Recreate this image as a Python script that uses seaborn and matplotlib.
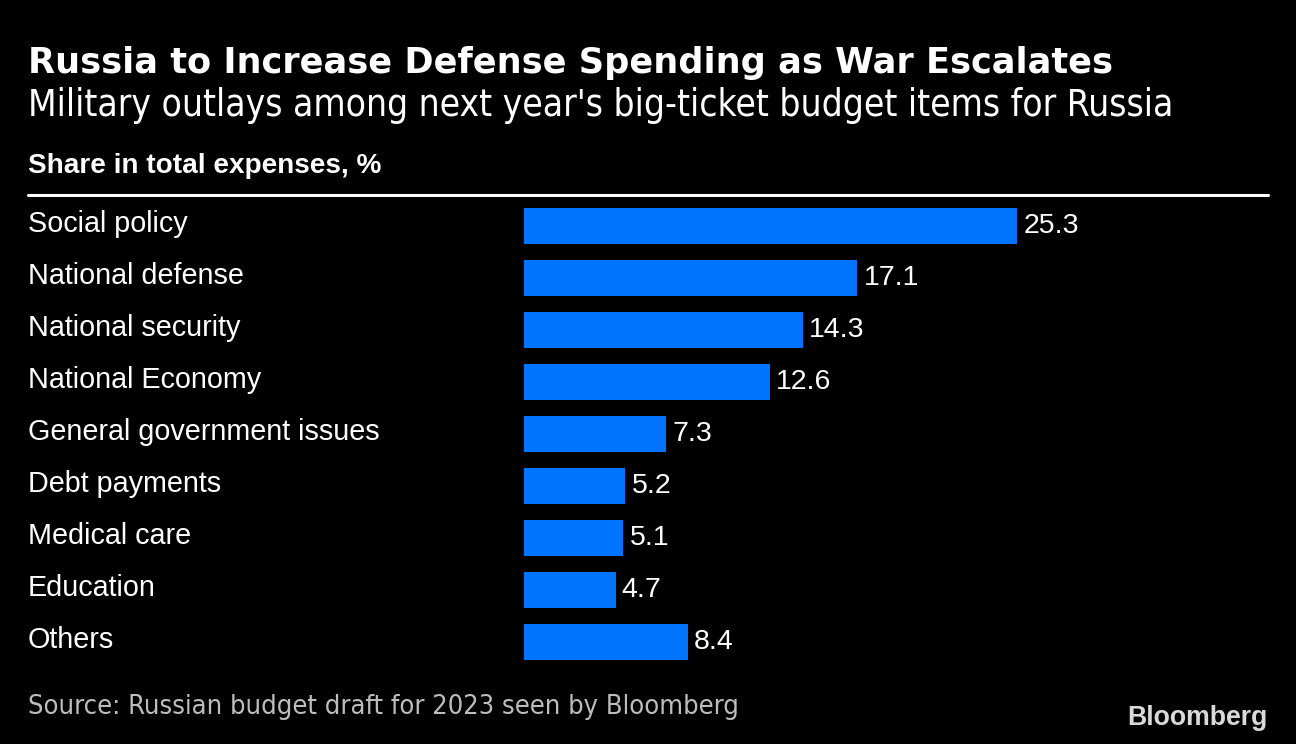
import matplotlib
matplotlib.use("Agg")
import matplotlib.pyplot as plt
import matplotlib.transforms as mtransforms
import seaborn as sns
import pandas as pd

categories = ["Social policy", "National defense", "National security", "National Economy",
              "General government issues", "Debt payments", "Medical care", "Education", "Others"]
values = [25.3, 17.1, 14.3, 12.6, 7.3, 5.2, 5.1, 4.7, 8.4]
value_labels = ["25.3", "17.1", "14.3", "12.6", "7.3", "5.2", "5.1", "4.7", "8.4"]

title = "Russia to Increase Defense Spending as War Escalates"
subtitle = "Military outlays among next year's big-ticket budget items for Russia"
axis_note = "Share in total expenses, %"
source = "Source: Russian budget draft for 2023 seen by Bloomberg"

W, H = 1296, 744
BG = "#000000"
BAR = "#0073ff"

sns.set_theme(style="white")
plt.rcParams["font.family"] = ["Liberation Sans", "DejaVu Sans"]

fig = plt.figure(figsize=(W / 100, H / 100), dpi=100, facecolor=BG)

def fx(px):
    return px / W

def fy(py):
    return 1 - py / H

# axes: x from 524 to 1268, y from 200 to 668
ax = fig.add_axes([fx(524), fy(668), fx(1268) - fx(524), (668 - 200) / H])
ax.set_facecolor(BG)

df = pd.DataFrame({"category": categories, "value": values})
sns.barplot(data=df, x="value", y="category", orient="h", color=BAR,
            saturation=1, width=0.68, linewidth=0, edgecolor=BAR, ax=ax)
ax.set_xlim(0, 744 / (493 / 25.3))
ax.set_ylim(len(categories) - 0.5, -0.5)
ax.bar_label(ax.containers[0], labels=value_labels, padding=4.5, color="white",
             fontsize=20.5, family=["Liberation Sans"])

ax.set_xticks([])
ax.set_yticks([])
ax.set_xlabel("")
ax.set_ylabel("")
for s in ax.spines.values():
    s.set_visible(False)

trans = mtransforms.blended_transform_factory(fig.transFigure, ax.transData)
for i, c in enumerate(categories):
    ax.text(fx(28), i - 0.04, c, transform=trans, color="white", fontsize=20.7,
            ha="left", va="center")

# titles
fig.text(fx(28), fy(63), title, color="white", fontsize=25.3, fontweight="bold",
         family=["DejaVu Sans"], ha="left", va="center")
fig.text(fx(28), fy(105), subtitle, color="white", fontsize=26.6,
         family=["DejaVu Sans"], fontstretch="condensed", ha="left", va="center")
fig.text(fx(28), fy(166), axis_note, color="white", fontsize=20.1, fontweight="bold",
         ha="left", va="center")

# rule line
fig.add_artist(plt.Line2D([fx(28), fx(1268)], [fy(195), fy(195)], color="white",
                          linewidth=2.2, transform=fig.transFigure))

fig.text(fx(28), fy(707), source, color="#bdbdbd", fontsize=19.5,
         family=["DejaVu Sans"], fontstretch="condensed", ha="left", va="center")
fig.text(fx(1268), fy(718), "Bloomberg", color="#d9d9d9", fontsize=19.2, fontweight="bold",
         ha="right", va="center")

fig.savefig("out.png", dpi=100, facecolor=BG)
